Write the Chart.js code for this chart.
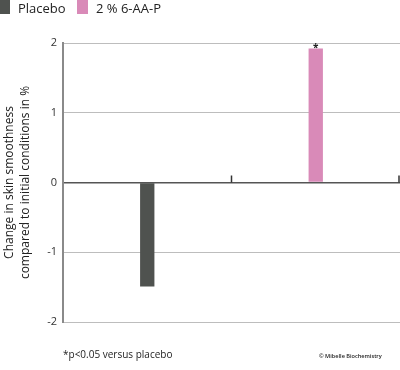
<!DOCTYPE html>
<html>
<head>
<meta charset="utf-8">
<script src="https://cdn.jsdelivr.net/npm/chart.js@4"></script>
<style>
  body { margin: 0; background: #fff; font-family: "Open Sans", sans-serif; }
  #wrap { position: relative; width: 400px; height: 370px; overflow: hidden; }
  #chart { position: absolute; left: 0; top: 0; }
  .leg { position: absolute; top: -1px; font-size: 13px; color: #222; white-space: nowrap; }
  .box { position: absolute; top: 0; width: 11px; height: 14px; }
  .note { position: absolute; color: #222; white-space: nowrap; }
</style>
</head>
<body>
<div id="wrap">
  <canvas id="chart" width="400" height="370"></canvas>
  <div class="box" style="left:-1px;background:#4f524f"></div>
  <div class="leg" style="left:18px">Placebo</div>
  <div class="box" style="left:77px;background:#d98ab8"></div>
  <div class="leg" style="left:96px">2 % 6-AA-P</div>
  <div class="note" style="left:63px;top:347px;font-size:10px">*p&lt;0.05 versus placebo</div>
  <div class="note" style="left:319px;top:352px;font-size:5.6px;font-weight:600">© Mibelle Biochemistry</div>
</div>
<script>
// data
const groups = ["Placebo", "2 % 6-AA-P"];
const placebo = [-1.49, null];
const active = [null, 1.92];
const significance = ["", "*"];
const yTicks = [-2, -1, 0, 1, 2];

// asterisks over significant bars + small marks on the zero line between groups
const extras = {
  id: 'extras',
  afterDatasetsDraw(chart) {
    const ctx = chart.ctx;
    const x = chart.scales.x, y = chart.scales.y;
    const y0 = y.getPixelForValue(0);
    const half = (x.getPixelForValue(1) - x.getPixelForValue(0)) / 2;
    ctx.save();
    ctx.strokeStyle = '#333';
    ctx.lineWidth = 1.5;
    groups.forEach((g, i) => {
      const px = Math.min(x.getPixelForValue(i) + half, chart.chartArea.right - 1);
      ctx.beginPath();
      ctx.moveTo(px, y0);
      ctx.lineTo(px, y0 - 7);
      ctx.stroke();
    });
    ctx.fillStyle = '#222';
    ctx.font = 'bold 10px "Open Sans"';
    ctx.textAlign = 'center';
    ctx.textBaseline = 'bottom';
    chart.data.datasets.forEach((ds, d) => {
      chart.getDatasetMeta(d).data.forEach((bar, i) => {
        if (ds.data[i] == null || !significance[i]) return;
        ctx.fillText(significance[i], bar.x, bar.y + 5);
      });
    });
    ctx.restore();
  }
};

new Chart(document.getElementById('chart'), {
  type: 'bar',
  data: {
    labels: groups,
    datasets: [
      { label: 'Placebo', data: placebo, backgroundColor: '#4f524f' },
      { label: '2 % 6-AA-P', data: active, backgroundColor: '#d98ab8' }
    ]
  },
  options: {
    responsive: false,
    animation: false,
    layout: { padding: { top: 43, bottom: 48, left: 0, right: 0 } },
    datasets: { bar: { grouped: false, categoryPercentage: 1, barPercentage: 0.085 } },
    plugins: { legend: { display: false }, tooltip: { enabled: false } },
    scales: {
      x: { display: false },
      y: {
        min: -2, max: 2,
        afterBuildTicks: s => { s.ticks = yTicks.map(v => ({ value: v })); },
        afterFit: s => { s.width = 63; },
        border: { color: '#8a8a8a', width: 2 },
        grid: {
          drawTicks: false,
          color: c => c.tick.value === 0 ? '#555' : '#bdbdbd',
          lineWidth: c => c.tick.value === 0 ? 1.5 : 1
        },
        ticks: { color: '#333', padding: 6, font: { family: 'Open Sans', size: 11 } },
        title: {
          display: true,
          text: ['Change in skin smoothness', 'compared to initial conditions in %'],
          color: '#222',
          padding: { top: 2, bottom: 4 },
          font: { family: 'Open Sans', size: 12, lineHeight: 1.3 }
        }
      }
    }
  },
  plugins: [extras]
});
</script>
</body>
</html>
